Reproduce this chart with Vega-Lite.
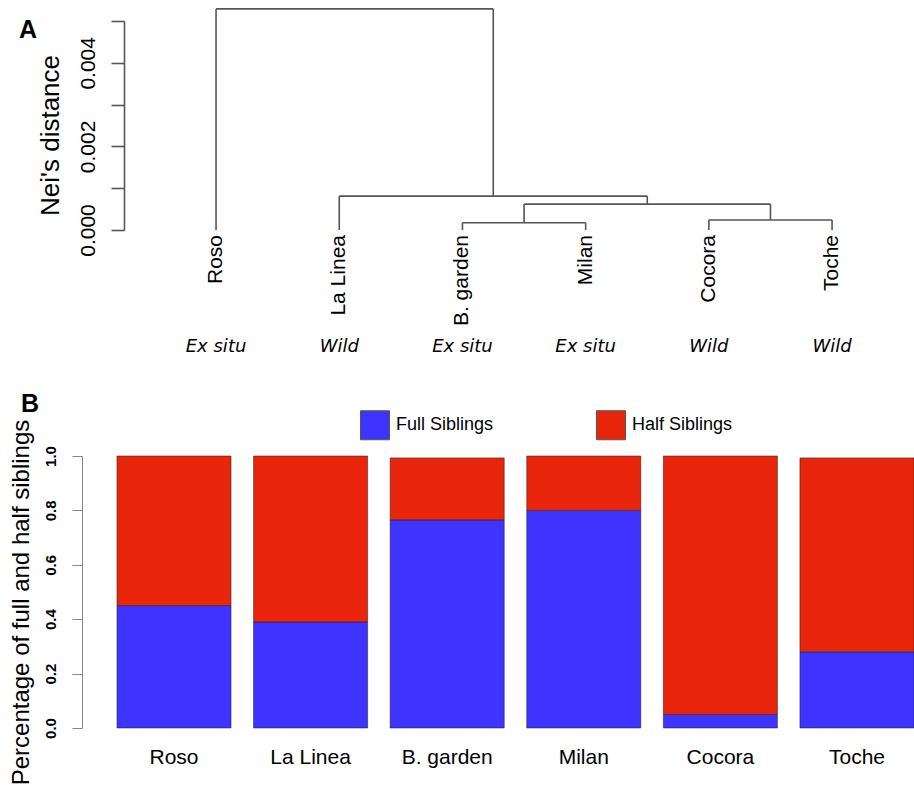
{
  "$schema": "https://vega.github.io/schema/vega-lite/v6.json",
  "padding": {"left": 8, "top": 8, "right": 0, "bottom": 0},
  "background": "white",
  "spacing": 226,
  "bounds": "flush",
  "resolve": {"legend": {"color": "independent"}},
  "config": {"view": {"stroke": null}, "font": "Liberation Sans", "axis": {"grid": false}},
  "datasets": {
    "leaves": [
      {"site": "Roso", "origin": "Ex situ", "x": 0, "h": 0},
      {"site": "La Linea", "origin": "Wild", "x": 1, "h": 0},
      {"site": "B. garden", "origin": "Ex situ", "x": 2, "h": 0},
      {"site": "Milan", "origin": "Ex situ", "x": 3, "h": 0},
      {"site": "Cocora", "origin": "Wild", "x": 4, "h": 0},
      {"site": "Toche", "origin": "Wild", "x": 5, "h": 0}
    ],
    "segments": [
      {"x": 0, "x2": 0, "h": 0, "h2": 0.00529},
      {"x": 2.25, "x2": 2.25, "h": 0.00081, "h2": 0.00529},
      {"x": 0, "x2": 2.25, "h": 0.00529, "h2": 0.00529},
      {"x": 1, "x2": 1, "h": 0, "h2": 0.00081},
      {"x": 3.5, "x2": 3.5, "h": 0.00062, "h2": 0.00081},
      {"x": 1, "x2": 3.5, "h": 0.00081, "h2": 0.00081},
      {"x": 2.5, "x2": 2.5, "h": 0.000175, "h2": 0.00062},
      {"x": 4.5, "x2": 4.5, "h": 0.00024, "h2": 0.00062},
      {"x": 2.5, "x2": 4.5, "h": 0.00062, "h2": 0.00062},
      {"x": 2, "x2": 2, "h": 0, "h2": 0.000175},
      {"x": 3, "x2": 3, "h": 0, "h2": 0.000175},
      {"x": 2, "x2": 3, "h": 0.000175, "h2": 0.000175},
      {"x": 4, "x2": 4, "h": 0, "h2": 0.00024},
      {"x": 5, "x2": 5, "h": 0, "h2": 0.00024},
      {"x": 4, "x2": 5, "h": 0.00024, "h2": 0.00024}
    ],
    "siblings": [
      {"site": "Roso", "type": "Full Siblings", "value": 0.45},
      {"site": "Roso", "type": "Half Siblings", "value": 0.55},
      {"site": "La Linea", "type": "Full Siblings", "value": 0.39},
      {"site": "La Linea", "type": "Half Siblings", "value": 0.61},
      {"site": "B. garden", "type": "Full Siblings", "value": 0.765},
      {"site": "B. garden", "type": "Half Siblings", "value": 0.228},
      {"site": "Milan", "type": "Full Siblings", "value": 0.8},
      {"site": "Milan", "type": "Half Siblings", "value": 0.2},
      {"site": "Cocora", "type": "Full Siblings", "value": 0.05},
      {"site": "Cocora", "type": "Half Siblings", "value": 0.95},
      {"site": "Toche", "type": "Full Siblings", "value": 0.28},
      {"site": "Toche", "type": "Half Siblings", "value": 0.713}
    ]
  },
  "vconcat": [
    {
      "width": 832,
      "height": 209,
      "title": {"text": "A", "orient": "left", "anchor": "end", "angle": 0, "align": "right", "baseline": "top", "frame": "group", "fontSize": 25, "fontWeight": "bold", "color": "black", "offset": -18, "dy": -3},
      "encoding": {
        "x": {"field": "x", "type": "quantitative", "scale": {"domain": [-1.088, 5.665], "nice": false, "zero": false}, "axis": null},
        "y": {
          "field": "h", "type": "quantitative",
          "scale": {"domain": [0, 0.005], "nice": false, "zero": false},
          "axis": {
            "values": [0, 0.001, 0.002, 0.003, 0.004, 0.005],
            "labelExpr": "indexof(['0.000','0.002','0.004'], format(datum.value, '.3f')) >= 0 ? format(datum.value, '.3f') : ''",
            "offset": -42,
            "tickSize": 13, "tickColor": "#555", "tickWidth": 1.6,
            "domainColor": "#555", "domainWidth": 1.6,
            "labelAngle": 270, "labelAlign": "center", "labelBaseline": "alphabetic",
            "labelPadding": 17, "labelFontSize": 21, "labelColor": "black",
            "labelOverlap": false, "labelFlush": false, "labelBound": false,
            "title": "Nei's distance", "titleFontSize": 26, "titleFontWeight": "normal",
            "titleAngle": 270, "titleAlign": "center", "titleBaseline": "alphabetic",
            "titlePadding": 19, "titleY": 114, "titleColor": "black"
          }
        }
      },
      "layer": [
        {
          "data": {"name": "segments"},
          "mark": {"type": "rule", "color": "#555", "strokeWidth": 1.6},
          "encoding": {"x2": {"field": "x2"}, "y2": {"field": "h2"}}
        },
        {
          "data": {"name": "leaves"},
          "mark": {"type": "text", "angle": 270, "align": "right", "baseline": "middle", "dx": -5, "fontSize": 21, "color": "black"},
          "encoding": {"text": {"field": "site"}}
        },
        {
          "data": {"name": "leaves"},
          "mark": {"type": "text", "font": "DejaVu Sans", "fontStyle": "italic", "fontSize": 18, "align": "center", "baseline": "alphabetic", "dy": 122, "color": "black"},
          "encoding": {"text": {"field": "origin"}}
        }
      ]
    },
    {
      "width": 832,
      "height": 272,
      "title": {"text": "B", "anchor": "start", "frame": "group", "fontSize": 25, "fontWeight": "bold", "color": "black", "offset": 0, "dx": -61, "dy": 27, "baseline": "alphabetic"},
      "data": {"name": "siblings"},
      "mark": {"type": "bar", "stroke": "#1a1a1a", "strokeWidth": 1, "strokeOpacity": 0.5},
      "encoding": {
        "x": {
          "field": "site", "type": "nominal",
          "sort": ["Roso", "La Linea", "B. garden", "Milan", "Cocora", "Toche"],
          "scale": {"paddingInner": 0.165, "paddingOuter": 0.128, "align": 1},
          "axis": {"title": null, "labelAngle": 0, "domain": false, "ticks": false, "labelFontSize": 21, "labelBaseline": "alphabetic", "labelPadding": 35, "labelColor": "black"}
        },
        "y": {
          "field": "value", "type": "quantitative", "stack": "zero",
          "scale": {"domain": [0, 1], "nice": false},
          "axis": {
            "values": [0, 0.2, 0.4, 0.6, 0.8, 1],
            "format": ".1f",
            "tickSize": 10, "tickColor": "#888", "domainColor": "#888",
            "labelAngle": 270, "labelAlign": "center", "labelBaseline": "alphabetic",
            "labelPadding": 17, "labelFontSize": 15, "labelFontWeight": "bold", "labelColor": "black",
            "labelOverlap": false, "labelFlush": false,
            "title": "Percentage of full and half siblings", "titleFontSize": 24, "titleFontWeight": "normal",
            "titleAngle": 270, "titleAlign": "center", "titleBaseline": "alphabetic",
            "titlePadding": 15, "titleY": 146, "titleColor": "black"
          }
        },
        "color": {
          "field": "type", "type": "nominal",
          "scale": {"domain": ["Full Siblings", "Half Siblings"], "range": ["#3f34ff", "#e9260b"]},
          "legend": {
            "orient": "none", "legendX": 278, "legendY": -46, "direction": "horizontal",
            "title": null, "padding": 0, "symbolType": "square", "symbolSize": 841,
            "symbolStrokeColor": "#555", "symbolStrokeWidth": 1, "symbolOpacity": 1,
            "labelFontSize": 18, "labelOffset": 6, "labelColor": "black", "columnPadding": 100
          }
        },
        "order": {"field": "type", "sort": "ascending"}
      }
    }
  ]
}
